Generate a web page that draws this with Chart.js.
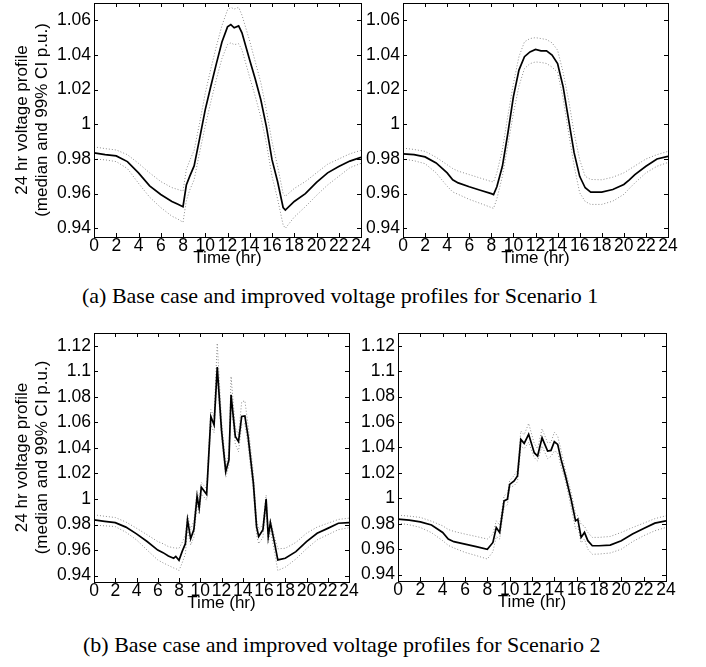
<!DOCTYPE html>
<html>
<head>
<meta charset="utf-8">
<script src="https://cdn.jsdelivr.net/npm/chart.js@4.4.1/dist/chart.umd.min.js"></script>
<style>
  html, body { margin: 0; background: #fff; }
  #fig { position: relative; width: 706px; height: 667px; overflow: hidden; }
  #fig canvas { position: absolute; }
  .cap { position: absolute; font-family: 'Liberation Serif', 'Times New Roman', serif; font-size: 22px; line-height: 24px; white-space: nowrap; color: #000; }
</style>
</head>
<body>
<div id="fig">
  <canvas id="s1base" width="375" height="269" style="left:0;top:0"></canvas>
  <canvas id="s1impr" width="323" height="269" style="left:359px;top:0"></canvas>
  <canvas id="s2base" width="363" height="284" style="left:0;top:330px"></canvas>
  <canvas id="s2impr" width="326" height="283" style="left:354px;top:330px"></canvas>
  <div class="cap" style="left:82px;top:284px">(a) Base case and improved voltage profiles for Scenario 1</div>
  <div class="cap" style="left:83px;top:633px">(b) Base case and improved voltage profiles for Scenario 2</div>
</div>
<script>
'use strict';

const HOURS = [0,2,4,6,8,10,12,14,16,18,20,22,24];
const Y_TICKS_S1 = [0.94,0.96,0.98,1,1.02,1.04,1.06];
const Y_TICKS_S2 = [0.94,0.96,0.98,1,1.02,1.04,1.06,1.08,1.1,1.12];
const Y_TITLE = ['24 hr voltage profile', '(median and 99% CI p.u.)'];
const X_TITLE = 'Time (hr)';

// Scenario 1 - base case
const s1BaseTime   = [0,1,2,3,4,5,6,7,7.5,8,8.3,8.6,9,9.5,10,10.5,11,11.5,12,12.3,12.6,13,13.3,14,14.5,15,15.5,16,16.5,17,17.2,18,19,20,21,22,23,24];
const s1BaseMedian = [0.9835,0.9825,0.9818,0.9785,0.972,0.9645,0.9595,0.9555,0.954,0.9525,0.965,0.97,0.976,0.992,1.0085,1.022,1.035,1.0475,1.0562,1.0575,1.0557,1.0568,1.0528,1.037,1.026,1.014,0.9985,0.9796,0.967,0.952,0.9505,0.9555,0.96,0.9665,0.972,0.9757,0.9788,0.981];
const s1BaseUpper  = [0.987,0.986,0.9852,0.9825,0.9775,0.972,0.967,0.9635,0.9625,0.9615,0.974,0.979,0.985,1.001,1.018,1.032,1.045,1.057,1.066,1.0675,1.0665,1.0675,1.063,1.048,1.036,1.024,1.008,0.99,0.976,0.96,0.9585,0.963,0.967,0.972,0.977,0.98,0.983,0.985];
const s1BaseLower  = [0.98,0.9795,0.9785,0.9745,0.966,0.958,0.952,0.947,0.9455,0.9435,0.956,0.962,0.968,0.984,0.999,1.013,1.026,1.038,1.046,1.047,1.046,1.0465,1.043,1.027,1.016,1.004,0.989,0.97,0.957,0.942,0.94,0.9465,0.9525,0.959,0.965,0.97,0.975,0.9775];

// Scenario 1 - improved
const s1ImprTime   = [0,1,2,3,4,4.5,5,6,7,8,8.2,8.5,9,9.5,10,10.5,11,11.5,12,12.5,13,13.5,14,14.5,15,15.5,16,16.5,17,18,19,20,20.5,21,22,23,24];
const s1ImprMedian = [0.983,0.9825,0.9812,0.9777,0.972,0.968,0.9662,0.964,0.962,0.96,0.9595,0.964,0.9758,0.995,1.016,1.0313,1.039,1.0418,1.0432,1.0424,1.0424,1.04,1.035,1.0217,1.0026,0.9835,0.97,0.9634,0.9609,0.9609,0.9624,0.9653,0.968,0.971,0.9758,0.98,0.9815];
const s1ImprUpper  = [0.9863,0.9855,0.9844,0.981,0.9767,0.9745,0.973,0.971,0.969,0.967,0.9668,0.972,0.9854,1.005,1.0236,1.039,1.0476,1.0495,1.05,1.0495,1.0489,1.047,1.0428,1.03,1.014,0.995,0.9796,0.97,0.9682,0.968,0.9695,0.972,0.974,0.976,0.98,0.9825,0.9844];
const s1ImprLower  = [0.98,0.979,0.9773,0.972,0.9643,0.961,0.9596,0.9567,0.9544,0.952,0.9515,0.957,0.97,0.988,1.0064,1.022,1.0322,1.035,1.036,1.0357,1.0351,1.033,1.03,1.015,0.995,0.976,0.9605,0.9555,0.9538,0.9538,0.9557,0.9596,0.963,0.9662,0.972,0.9758,0.978];

// Scenario 2 - base case
const s2BaseTime   = [0,1,2,3,4,5,6,6.5,7,7.5,7.7,8,8.3,8.6,8.8,9.1,9.4,9.7,9.9,10.1,10.6,11,11.3,11.6,12,12.4,12.7,12.9,13.3,13.6,13.9,14.2,14.5,15,15.3,15.5,15.9,16.2,16.4,16.6,17,17.3,18,19,20,21,22,23,24];
const s2BaseMedian = [0.9836,0.9825,0.9815,0.978,0.9727,0.9667,0.96,0.958,0.9554,0.9536,0.955,0.952,0.959,0.965,0.9836,0.969,0.976,1.002,0.9928,1.0092,1.0037,1.0646,1.058,1.1033,1.054,1.0215,1.0307,1.0816,1.049,1.045,1.0646,1.065,1.049,1.0124,0.9784,0.9706,0.976,1.0,0.9706,0.9815,0.9653,0.9523,0.9536,0.9588,0.9667,0.9732,0.977,0.981,0.9815];
const s2BaseUpper  = [0.9876,0.9865,0.9855,0.982,0.9771,0.972,0.9667,0.965,0.9627,0.9618,0.9616,0.9614,0.966,0.972,0.988,0.976,0.983,1.007,0.999,1.013,1.008,1.07,1.064,1.122,1.062,1.026,1.036,1.096,1.056,1.05,1.076,1.077,1.058,1.02,0.984,0.976,0.98,1.003,0.976,0.984,0.97,0.961,0.9614,0.966,0.9732,0.978,0.981,0.984,0.985];
const s2BaseLower  = [0.9795,0.979,0.9784,0.974,0.968,0.96,0.9523,0.95,0.948,0.946,0.9455,0.944,0.95,0.957,0.976,0.964,0.97,0.996,0.988,1.004,0.999,1.058,1.052,1.095,1.048,1.017,1.026,1.076,1.043,1.037,1.058,1.059,1.042,1.006,0.972,0.965,0.97,0.995,0.966,0.976,0.958,0.944,0.9466,0.953,0.961,0.968,0.972,0.976,0.9775];

// Scenario 2 - improved
const s2ImprTime   = [0,1,2,3,4,4.5,5,6,7,8,8.5,8.8,9.1,9.5,9.8,10,10.4,10.7,11,11.3,11.7,12.2,12.5,12.9,13.4,13.7,14,14.3,14.6,15,15.5,15.9,16.1,16.4,16.7,17,17.4,18,19,20,21,22,23,24];
const s2ImprMedian = [0.9836,0.9828,0.9815,0.979,0.9732,0.968,0.9659,0.964,0.962,0.96,0.9653,0.977,0.9732,0.998,0.9993,1.011,1.0137,1.0176,1.0463,1.0432,1.0503,1.0359,1.0333,1.0476,1.0372,1.0377,1.0445,1.0424,1.0307,1.0176,0.9993,0.9823,0.9836,0.9693,0.9732,0.9667,0.9627,0.9627,0.9632,0.9667,0.9719,0.9763,0.9805,0.9823];
const s2ImprUpper  = [0.9868,0.986,0.985,0.982,0.9784,0.9755,0.974,0.9719,0.97,0.968,0.972,0.9823,0.979,1.002,1.004,1.0137,1.018,1.022,1.0529,1.05,1.0589,1.0432,1.039,1.0546,1.0437,1.044,1.052,1.049,1.038,1.0215,1.005,0.988,0.9863,0.9797,0.978,0.9732,0.9693,0.9693,0.97,0.9732,0.977,0.9805,0.984,0.9863];
const s2ImprLower  = [0.9805,0.9792,0.9771,0.973,0.9667,0.963,0.961,0.9575,0.955,0.9523,0.958,0.97,0.968,0.993,0.995,1.0085,1.01,1.013,1.0411,1.039,1.044,1.032,1.0294,1.0411,1.0312,1.033,1.0372,1.036,1.025,1.0137,0.993,0.976,0.978,0.965,0.968,0.96,0.956,0.9562,0.957,0.96,0.9659,0.9706,0.9745,0.9771];

const FAMILY = "'Liberation Sans', Arial, sans-serif";
const TICK_FONT = { family: FAMILY, size: 17.5, lineHeight: 1 };
const TITLE_FONT = { family: FAMILY, size: 17, lineHeight: 1.2 };
const TICK = 4;

// box round the plot area with inward ticks on all four sides
const frame = {
  id: 'frame',
  afterDatasetsDraw(chart) {
    const { ctx, chartArea: a, scales: { x, y } } = chart;
    ctx.save();
    ctx.strokeStyle = '#000';
    ctx.lineWidth = 1;
    ctx.beginPath();
    x.ticks.forEach(t => {
      const px = Math.round(x.getPixelForValue(t.value)) + 0.5;
      ctx.moveTo(px, a.bottom); ctx.lineTo(px, a.bottom - TICK);
      ctx.moveTo(px, a.top); ctx.lineTo(px, a.top + TICK);
    });
    y.ticks.forEach(t => {
      const py = Math.round(y.getPixelForValue(t.value)) + 0.5;
      ctx.moveTo(a.left, py); ctx.lineTo(a.left + TICK, py);
      ctx.moveTo(a.right, py); ctx.lineTo(a.right - TICK, py);
    });
    ctx.stroke();
    ctx.strokeRect(a.left + 0.5, a.top + 0.5, a.right - a.left, a.bottom - a.top);
    ctx.restore();
  }
};

function panel(id, time, median, upper, lower, yMax, yTicks, axisW, showTitle) {
  const line = (vals, main) => ({
    data: time.map((t, i) => ({ x: t, y: vals[i] })),
    borderColor: main ? '#000' : '#8c8c8c',
    borderWidth: main ? 1.7 : 1,
    borderDash: main ? [] : [1, 2],
    pointRadius: 0,
    tension: 0,
  });

  new Chart(document.getElementById(id), {
    type: 'line',
    data: { datasets: [line(median, true), line(upper), line(lower)] },
    options: {
      responsive: false,
      animation: false,
      devicePixelRatio: 1,
      layout: { padding: { left: 0, top: 3, right: 14, bottom: 0 } },
      plugins: { legend: { display: false }, tooltip: { enabled: false } },
      scales: {
        x: {
          type: 'linear', min: 0, max: 24,
          grid: { display: false, drawTicks: false }, border: { display: false },
          ticks: { font: TICK_FONT, color: '#000', padding: 0, maxRotation: 0, autoSkip: false },
          afterBuildTicks: s => { s.ticks = HOURS.map(v => ({ value: v })); },
          afterFit: s => { s.height = 32; s.paddingLeft = 0; s.paddingRight = 0; },
          title: { display: true, text: X_TITLE, font: TITLE_FONT, color: '#000', padding: { top: 0, bottom: 0 } },
        },
        y: {
          type: 'linear', min: 0.935, max: yMax,
          grid: { display: false, drawTicks: false }, border: { display: false },
          ticks: { font: TICK_FONT, color: '#000', padding: 3, callback: v => String(+v.toFixed(2)) },
          afterBuildTicks: s => { s.ticks = yTicks.map(v => ({ value: v })); },
          afterFit: s => { s.width = axisW; s.paddingTop = 0; s.paddingBottom = 0; },
          title: { display: showTitle, text: Y_TITLE, font: TITLE_FONT, color: '#000', padding: { top: 12, bottom: 0 } },
        },
      },
    },
    plugins: [frame],
  });
}

panel('s1base', s1BaseTime, s1BaseMedian, s1BaseUpper, s1BaseLower, 1.07, Y_TICKS_S1, 94, true);
panel('s1impr', s1ImprTime, s1ImprMedian, s1ImprUpper, s1ImprLower, 1.07, Y_TICKS_S1, 44, false);
panel('s2base', s2BaseTime, s2BaseMedian, s2BaseUpper, s2BaseLower, 1.13, Y_TICKS_S2, 94, true);
panel('s2impr', s2ImprTime, s2ImprMedian, s2ImprUpper, s2ImprLower, 1.13, Y_TICKS_S2, 44, false);
</script>
</body>
</html>
